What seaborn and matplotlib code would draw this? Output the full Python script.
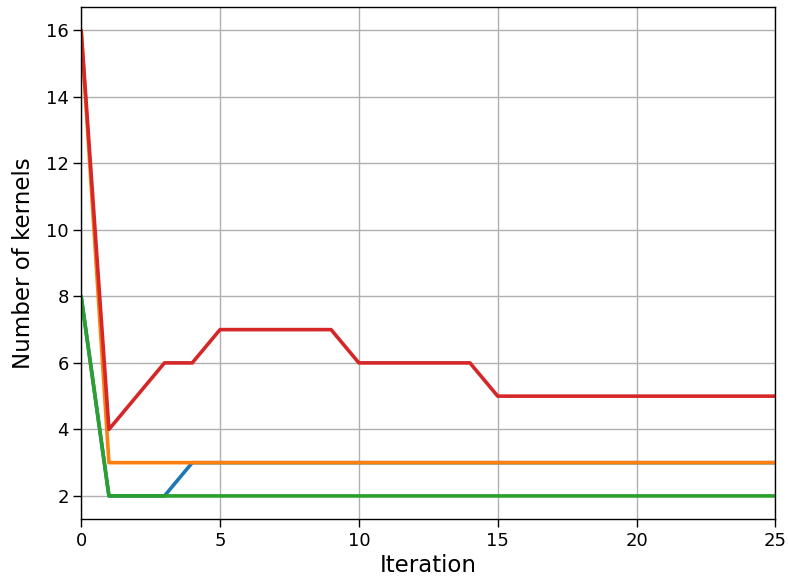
import pandas as pd
import matplotlib
matplotlib.use("Agg")
import matplotlib.pyplot as plt
import seaborn as sns

iterations = list(range(26))
run_a = [8, 2, 2, 2, 3] + [3] * 21
run_b = [16] + [3] * 25
run_c = [8] + [2] * 25
run_d = [16, 4, 5, 6, 6, 7, 7, 7, 7, 7, 6, 6, 6, 6, 6] + [5] * 11

series = {"a": run_a, "b": run_b, "c": run_c, "d": run_d}
palette = ["#1f77b4", "#ff7f0e", "#2ca02c", "#d62728"]

df = pd.concat(
    [pd.DataFrame({"iteration": iterations, "kernels": v, "run": k}) for k, v in series.items()],
    ignore_index=True,
)

sns.set_style("ticks")
plt.rcParams["font.family"] = ["DejaVu Sans"]
plt.rcParams["text.color"] = "black"
plt.rcParams["axes.labelcolor"] = "black"

fig, ax = plt.subplots(figsize=(7.88, 5.86), dpi=100)
fig.subplots_adjust(left=0.103, right=0.984, top=0.988, bottom=0.114)

sns.lineplot(data=df, x="iteration", y="kernels", hue="run", palette=palette,
             linewidth=2.6, legend=False, ax=ax)

ax.set_xlim(0, 25)
ax.set_yticks(range(2, 17, 2))
ax.grid(True, color="#b0b0b0", linewidth=1.0)
ax.set_axisbelow(True)
ax.set_xlabel("Iteration", fontsize=16.5, labelpad=3)
ax.set_ylabel("Number of kernels", fontsize=16.5, labelpad=8)
ax.tick_params(labelsize=13, length=5.5, width=1.0, color="black", labelcolor="black")
for s in ax.spines.values():
    s.set_color("black")
    s.set_linewidth(1.0)

fig.savefig("out.png", dpi=100)
